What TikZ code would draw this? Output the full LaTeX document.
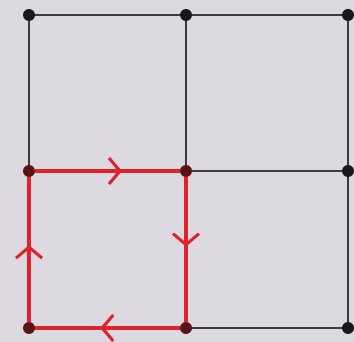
\documentclass[tikz,border=0pt]{standalone}
\usetikzlibrary{arrows.meta,decorations.markings}
\definecolor{bg}{HTML}{DCDAE0}
\definecolor{gridc}{HTML}{3C3B40}
\definecolor{redc}{HTML}{E1222C}
\definecolor{reddot}{HTML}{5A1418}
\tikzset{
  dot/.style={circle,fill=black!90,inner sep=0pt,minimum size=12pt},
  reddotst/.style={circle,fill=reddot,inner sep=0pt,minimum size=12pt},
  gridline/.style={draw=gridc,line width=1.8pt},
  loopline/.style={draw=redc,line width=3.6pt,
    postaction={decorate},
    decoration={markings,mark=at position #1 with {\arrow[redc,line width=3pt]{Straight Barb[length=11pt,width=26pt]}}}},
}
\begin{document}
\begin{tikzpicture}[x=1pt,y=-1pt]
\fill[bg] (0,0) rectangle (354,342);
\useasboundingbox (0,0) rectangle (354,342);
\node[dot] (n00) at (29,15) {};
\node[dot] (n10) at (186,15) {};
\node[dot] (n20) at (348,15) {};
\node[reddotst] (n01) at (29,171) {};
\node[reddotst] (n11) at (186,171) {};
\node[dot] (n21) at (348,171) {};
\node[reddotst] (n02) at (29,328) {};
\node[reddotst] (n12) at (186,328) {};
\node[dot] (n22) at (348,328) {};
\draw[gridline] (n00) -- (n10); \draw[gridline] (n10) -- (n20);
\draw[gridline] (n11) -- (n21); \draw[gridline] (n12) -- (n22);
\draw[gridline] (n00) -- (n01); \draw[gridline] (n10) -- (n11);
\draw[gridline] (n20) -- (n21); \draw[gridline] (n21) -- (n22);
\draw[loopline=0.6] (n01) -- (n11);
\draw[loopline=0.48] (n11) -- (n12);
\draw[loopline=0.55] (n12) -- (n02);
\draw[loopline=0.53] (n02) -- (n01);
\end{tikzpicture}
\end{document}
